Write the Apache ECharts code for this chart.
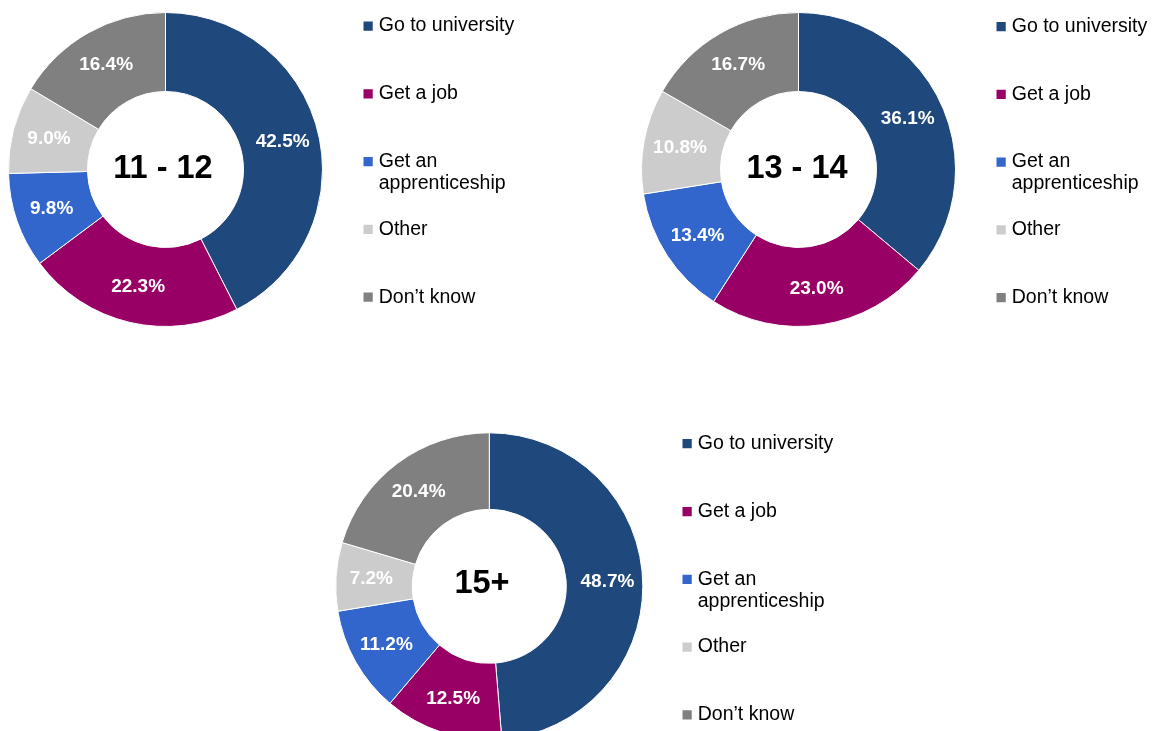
<!DOCTYPE html>
<html>
<head>
<meta charset="utf-8">
<title>Future plans by age group</title>
<script src="https://cdn.jsdelivr.net/npm/echarts@6/dist/echarts.min.js"></script>
<style>
  html, body { margin: 0; padding: 0; background: #ffffff; }
  #chart { width: 1157px; height: 731px; }
</style>
</head>
<body>
<div id="chart"></div>
<script>
// Answer categories, in clockwise order from 12 o'clock
const categories = ['Go to university', 'Get a job', 'Get an apprenticeship', 'Other', 'Don\u2019t know'];
// Legend text (the apprenticeship entry wraps onto a second line)
const legendLabels = ['Go to university', 'Get a job', 'Get an\napprenticeship', 'Other', 'Don\u2019t know'];
const colors = ['#1F497D', '#990066', '#3366CC', '#CCCCCC', '#808080'];

// Age groups shown in the middle of each ring
const groups = ['11 - 12', '13 - 14', '15+'];

// Percentage of respondents per category
const values1112 = [42.5, 22.3, 9.8, 9.0, 16.4];
const values1314 = [36.1, 23.0, 13.4, 10.8, 16.7];
const values15 = [48.7, 12.5, 11.2, 7.2, 20.4];
const allValues = [values1112, values1314, values15];

// Layout for each ring and its legend
const layouts = [
  { center: [165.5, 169.5], radius: [78, 157], titleX: 163, titleY: 169, legendLeft: 361.5, legendTop: -7 },
  { center: [798.5, 169.5], radius: [78, 157], titleX: 797, titleY: 169, legendLeft: 994.5, legendTop: -6.5 },
  { center: [489.3, 586.3], radius: [77, 153.5], titleX: 482, titleY: 584, legendLeft: 680.5, legendTop: 410.7 }
];

const FONT = '"Liberation Sans", Arial, Helvetica, sans-serif';

const series = allValues.map((vals, i) => ({
  type: 'pie',
  name: groups[i],
  center: layouts[i].center,
  radius: layouts[i].radius,
  startAngle: 90,
  clockwise: true,
  avoidLabelOverlap: false,
  silent: true,
  animation: false,
  itemStyle: { borderColor: '#ffffff', borderWidth: 1 },
  label: {
    show: true,
    position: 'inside',
    formatter: p => p.value.toFixed(1) + '%',
    color: '#ffffff',
    fontFamily: FONT,
    fontWeight: 'bold',
    fontSize: 19
  },
  labelLine: { show: false },
  emphasis: { disabled: true },
  data: categories.map((name, k) => ({ name: name, value: vals[k], itemStyle: { color: colors[k] } }))
}));

// Each legend line is padded to three text rows so the first row sits beside the marker
const legendFormatter = name => {
  const label = legendLabels[categories.indexOf(name)];
  const rows = label.split('\n');
  return ' \n' + label + (rows.length < 2 ? '\n ' : '');
};

const legends = layouts.map(l => ({
  orient: 'vertical',
  left: l.legendLeft,
  top: l.legendTop,
  height: 400,
  padding: 0,
  itemGap: 1.8,
  itemWidth: 11.25,
  itemHeight: 11.25,
  icon: 'rect',
  selectedMode: false,
  data: categories,
  formatter: legendFormatter,
  textStyle: { fontFamily: FONT, fontSize: 19.5, lineHeight: 22, color: '#000000' }
}));

const titles = layouts.map((l, i) => ({
  type: 'text',
  x: l.titleX,
  y: l.titleY,
  silent: true,
  style: {
    text: groups[i],
    font: 'bold 32.5px ' + FONT,
    fill: '#000000',
    textAlign: 'center',
    textVerticalAlign: 'middle'
  }
}));

const chart = echarts.init(document.getElementById('chart'), null, { renderer: 'canvas' });
chart.setOption({
  backgroundColor: '#ffffff',
  animation: false,
  tooltip: { show: false },
  legend: legends,
  graphic: titles,
  series: series
});
</script>
</body>
</html>
